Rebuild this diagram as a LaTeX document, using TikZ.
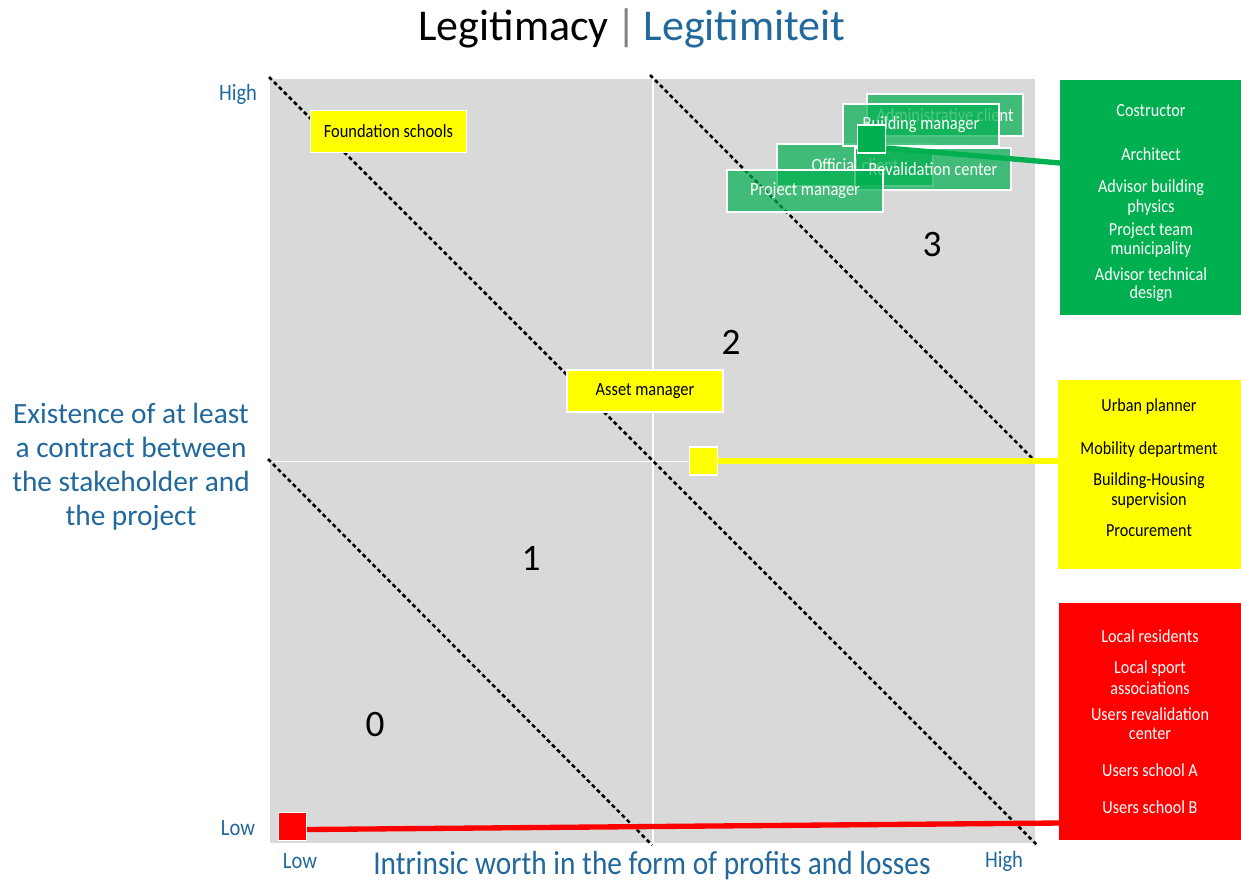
\documentclass[tikz,border=0pt]{standalone}
\usepackage{fontspec}
\setmainfont{Carlito}
\newfontfamily\narrowfont[FakeStretch=0.88]{Carlito}
\definecolor{axisblue}{RGB}{33,104,157}
\definecolor{plotgray}{RGB}{217,217,217}
\definecolor{stkgreen}{RGB}{0,176,80}
\definecolor{stkyellow}{RGB}{255,255,0}
\definecolor{stkred}{RGB}{255,0,0}
\begin{document}
\begin{tikzpicture}[x=0.75pt,y=-0.75pt,
  divider/.style={black,line width=1.9pt,dash pattern=on 3pt off 2.3pt},
  axislbl/.style={text=axisblue,font=\narrowfont\fontsize{17.5}{20}\selectfont,inner sep=0pt},
  zone/.style={font=\fontsize{28}{32}\selectfont,inner sep=0pt},
  ybox/.style={fill=stkyellow,draw=white,line width=1pt,inner sep=0pt,
    minimum width=156*0.75pt,minimum height=42*0.75pt,font=\narrowfont\fontsize{14}{16}\selectfont},
  gbox/.style={fill=stkgreen,fill opacity=0.7,text opacity=1,draw=white,line width=1pt,inner sep=0pt,
    text=white,minimum width=156*0.75pt,minimum height=42*0.75pt,font=\narrowfont\fontsize{14}{16}\selectfont},
  marker/.style={draw=white,line width=1pt,minimum size=28*0.75pt,inner sep=0pt},
  listtxt/.style={font=\narrowfont\fontsize{13.8}{16}\selectfont,inner sep=0pt},
  link/.style={line width=4pt}
]
\useasboundingbox (0,0) rectangle (1241,883);

% plot area with quadrant lines
\node[fill=plotgray,minimum width=765*0.75pt,minimum height=764*0.75pt,inner sep=0pt,anchor=north west] (plot) at (270,79) {};
\draw[white,line width=1.1pt] (plot.north) -- (plot.south);
\draw[white,line width=1.1pt] (plot.west) -- (plot.east);

% diagonal boundaries between the legitimacy levels
\draw[divider] (268,459) -- (652,845);
\draw[divider] (269,77) -- (1037,845);
\draw[divider] (650,75) -- (1035,461);

% level numbers
\node[zone] (z0) at (375,724) {0};
\node[zone] (z1) at (531,558) {1};
\node[zone] (z2) at (731,342) {2};
\node[zone] (z3) at (932,245) {3};

% title
\node[font=\fontsize{33}{40}\selectfont,inner sep=0pt] (title) at (632,28)
  {Legitimacy\,{\color{gray}|}\,{\color{axisblue}Legitimiteit}};

% axes
\node[axislbl] (yhigh) at (238,94) {High};
\node[axislbl] (ylow) at (238,828) {Low};
\node[axislbl] (xlow) at (300,861) {Low};
\node[axislbl] (xhigh) at (1004,861) {High};
\node[text=axisblue,font=\narrowfont\fontsize{25}{28}\selectfont,inner sep=0pt] (xtitle) at (652,866)
  {Intrinsic worth in the form of profits and losses};
\node[text=axisblue,font=\fontsize{22}{25.5}\selectfont,align=center,inner sep=0pt] (ytitle) at (131,467)
  {Existence of at least\\a contract between\\the stakeholder and\\the project};

% stakeholders placed in the plot
\node[ybox] (found) at (388.5,131.5) {Foundation schools};
\node[ybox] (asset) at (645,391) {Asset manager};

\node[gbox] (admin) at (945,115) {Administrative client};
\node[gbox] (official) at (855,165) {Official client};
\node[gbox] (bman) at (921,125) {Building manager};
\node[gbox] (reval) at (933,169) {Revalidation center};
\node[gbox] (pman) at (805,191) {Project manager};

% group boxes on the right
\node[fill=stkgreen,minimum width=181*0.75pt,minimum height=235*0.75pt,inner sep=0pt,anchor=north west] (gbig) at (1060,80) {};
\node[fill=stkyellow,minimum width=183*0.75pt,minimum height=189*0.75pt,inner sep=0pt,anchor=north west] (ybig) at (1058,380) {};
\node[fill=stkred,minimum width=182*0.75pt,minimum height=237*0.75pt,inner sep=0pt,anchor=north west] (rbig) at (1059,603) {};

\begin{scope}[every node/.append style={listtxt,text=white}]
\node (g1) at (1151,111) {Costructor};
\node (g2) at (1151,154) {Architect};
\node (g3) at (1151,188) {Advisor building};
\node (g4) at (1151,208) {physics};
\node (g5) at (1151,231) {Project team};
\node (g6) at (1151,250) {municipality};
\node (g7) at (1151,274) {Advisor technical};
\node (g8) at (1151,294) {design};
\end{scope}
\begin{scope}[every node/.append style={listtxt,text=black}]
\node (y1) at (1149,407) {Urban planner};
\node (y2) at (1149,450) {Mobility department};
\node (y3) at (1149,481) {Building-Housing};
\node (y4) at (1149,501) {supervision};
\node (y5) at (1149,531) {Procurement};
\end{scope}
\begin{scope}[every node/.append style={listtxt,text=white}]
\node (r1) at (1150,636) {Local residents};
\node (r2) at (1150,669) {Local sport};
\node (r3) at (1150,688) {associations};
\node (r4) at (1150,714) {Users revalidation};
\node (r5) at (1150,734) {center};
\node (r6) at (1150,770) {Users school A};
\node (r7) at (1150,807) {Users school B};
\end{scope}

% group markers and their links to the group boxes
\node[marker,fill=stkgreen] (gmark) at (871.5,139) {};
\node[marker,fill=stkyellow] (ymark) at (703.5,461) {};
\node[marker,fill=stkred] (rmark) at (292.5,826.5) {};

\draw[link,stkgreen] (gmark.east) ++(0,9) -- (gbig.west |- 0,163);
\draw[link,stkyellow] (ymark.east) -- (ybig.west |- ymark.east);
\draw[link,stkred] (rmark.east) ++(0,3) -- (rbig.west |- 0,823);
\end{tikzpicture}
\end{document}
